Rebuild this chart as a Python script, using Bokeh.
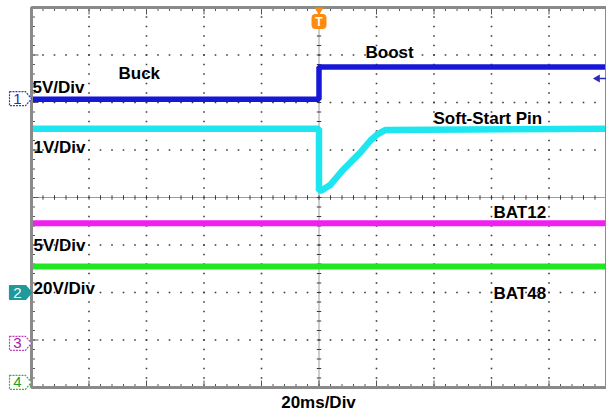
import numpy as np
from bokeh.plotting import figure
from bokeh.models import Range1d
from bokeh.core.properties import value
from bokeh.embed import file_html
from bokeh.resources import INLINE

# ---- data: time in ms (20 ms/div), vertical in screen divisions ----
t_ch1 = [-100, 0, 0, 100]
v_ch1 = [2.07, 2.07, 2.75, 2.75]            # Buck -> Boost output (5V/Div)
t_ss = [-100, 0, 0, 1, 4, 8.5, 14.4, 17.9, 20.3, 23, 100]
v_ss = [1.45, 1.45, 0.15, 0.15, 0.27, 0.59, 0.95, 1.2, 1.33, 1.42, 1.45]   # Soft-start pin (1V/Div)
t_bat12 = [-100, 100]
v_bat12 = [-0.54, -0.54]                    # BAT12 (5V/Div)
t_bat48 = [-100, 100]
v_bat48 = [-1.45, -1.45]                    # BAT48 (20V/Div)

ch_names = ["1", "2", "3", "4"]
ch_levels = [2.08, -2.0, -3.07, -3.89]

x_div = list(range(-100, 101, 20))
y_div = list(range(-4, 5))

# ---- geometry helpers (canvas pixel -> data) ----
PX_X = 2.875      # px per ms
PX_Y = 47.5       # px per division
X_LEFT = 31       # scope left edge (px)
Y_TOPPX = 7       # scope top edge (px)
W, H = 606, 412
def wx(px):
    return -100 + (px - X_LEFT) / PX_X
def wy(py):
    return 4 - (py - Y_TOPPX) / PX_Y

p = figure(width=W, height=H, x_range=Range1d(wx(0), wx(W)), y_range=Range1d(wy(H), wy(0)),
           output_backend="svg", toolbar_location=None, min_border=0,
           x_axis_location=None, y_axis_location=None, outline_line_color=None,
           background_fill_color="white", border_fill_color="white")
p.grid.visible = False

dot_color = "#3a3a3a"
# grid dots on inner lines
inner_x = [t for t in x_div if t not in (-100, 0, 100)]
inner_y = [v for v in y_div if v not in (-4, 0, 4)]
minor_y = np.arange(-4, 4.001, 0.2)
minor_x = np.arange(-100, 100.001, 4)
gx, gy = np.meshgrid(inner_x, minor_y)
p.scatter(gx.ravel(), gy.ravel(), marker="square", size=1.6, color=dot_color, line_width=0)
hx, hy = np.meshgrid(minor_x, inner_y)
p.scatter(hx.ravel(), hy.ravel(), marker="square", size=1.6, color=dot_color, line_width=0)

# center cross, dense dotted with ticks
p.segment(x0=[0, -100], y0=[-4, 0], x1=[0, 100], y1=[4, 0], line_color=dot_color,
          line_width=1, line_dash="1 1")
tx = 2.2 / PX_X
ty = 2.2 / PX_Y
p.segment(x0=minor_x, y0=-ty, x1=minor_x, y1=ty, line_color=dot_color, line_width=1)
p.segment(x0=-tx, y0=minor_y, x1=tx, y1=minor_y, line_color=dot_color, line_width=1)

# border ticks (minor short, major longer)
tick_c = "#555555"
bl_x = 3.5 / PX_X
bl_y = 3.5 / PX_Y
Bl_x = 7 / PX_X
Bl_y = 7 / PX_Y
p.segment(x0=minor_x, y0=-4, x1=minor_x, y1=-4 + bl_y, line_color=tick_c, line_width=1)
p.segment(x0=minor_x, y0=4, x1=minor_x, y1=4 - bl_y, line_color=tick_c, line_width=1)
p.segment(x0=-100, y0=minor_y, x1=-100 + bl_x, y1=minor_y, line_color=tick_c, line_width=1)
p.segment(x0=x_div, y0=-4, x1=x_div, y1=-4 + Bl_y, line_color=tick_c, line_width=1)
p.segment(x0=x_div, y0=4, x1=x_div, y1=4 - Bl_y, line_color=tick_c, line_width=1)
p.segment(x0=-100, y0=y_div, x1=-100 + Bl_x, y1=y_div, line_color=tick_c, line_width=1)

# traces
p.line(t_bat48, v_bat48, line_color="#22e622", line_width=6)
p.line(t_bat12, v_bat12, line_color="#f01ef0", line_width=6)
p.line(t_ss, v_ss, line_color="#1ee6f0", line_width=6.5)
p.line(t_ch1, v_ch1, line_color="#1717d8", line_width=5.5)

# scope frame
p.quad(left=-100, right=100, bottom=-4, top=4, fill_color=None,
       line_color="#8a8a8a", line_width=3)

# channel markers
styles = {
    "1": dict(fill="white", line="#3a3ac8", text="#2a2ab8", dash="2 1"),
    "2": dict(fill="#1e9a9a", line="#1e9a9a", text="white", dash="solid"),
    "3": dict(fill="white", line="#c040c0", text="#a020a0", dash="2 1"),
    "4": dict(fill="white", line="#40b040", text="#20a020", dash="2 1"),
}
hh = 7 / PX_Y
for name, lvl in zip(ch_names, ch_levels):
    s = styles[name]
    xs = [wx(9), wx(25), wx(31), wx(25), wx(9)]
    ys = [lvl + hh, lvl + hh, lvl, lvl - hh, lvl - hh]
    p.patch(xs, ys, fill_color=s["fill"], line_color=s["line"], line_width=1.2,
            line_dash=s["dash"])
    p.text(x=[wx(17)], y=[lvl], text=[name], text_color=s["text"],
           text_font=value("Liberation Sans"), text_font_size="15px",
           text_align="center", text_baseline="middle")

# trigger marker at top
p.scatter([0], [wy(9.5)], marker="inverted_triangle", size=9, color="#ff8a10", line_width=0)
p.rect([0], [wy(21)], width=14, height=14, width_units="screen", height_units="screen",
       fill_color="#ff8a10", line_color="#ff8a10", border_radius=3)
p.text(x=[0], y=[wy(21.5)], text=["T"], text_color="white",
       text_font=value("Liberation Sans"), text_font_style="bold", text_font_size="12px",
       text_align="center", text_baseline="middle")

# trigger level arrow on right
p.segment(x0=[wx(598)], y0=[wy(78)], x1=[wx(606)], y1=[wy(78)], line_color="#2a2ac0", line_width=1.5)
p.scatter([wx(597)], [wy(78)], marker="triangle", angle=np.pi / 2, size=8,
          color="#2a2ac0", line_width=0)

# annotations
lab_x = [wx(118), wx(32), wx(365), wx(433), wx(33), wx(493), wx(33), wx(33), wx(493)]
lab_y = [wy(73), wy(87), wy(52), wy(118), wy(147), wy(212), wy(245), wy(288), wy(293)]
lab_t = ["Buck", "5V/Div", "Boost", "Soft-Start Pin", "1V/Div", "BAT12", "5V/Div",
         "20V/Div", "BAT48"]
p.text(x=lab_x, y=lab_y, text=lab_t, text_color="black",
       text_font=value("Liberation Sans"), text_font_style="bold", text_font_size="17px",
       text_align="left", text_baseline="alphabetic")
p.text(x=[wx(318)], y=[wy(402)], text=["20ms/Div"], text_color="black",
       text_font=value("Liberation Sans"), text_font_style="bold", text_font_size="17px",
       text_align="center", text_baseline="alphabetic")

open("out.html", "w").write(file_html(p, INLINE))
